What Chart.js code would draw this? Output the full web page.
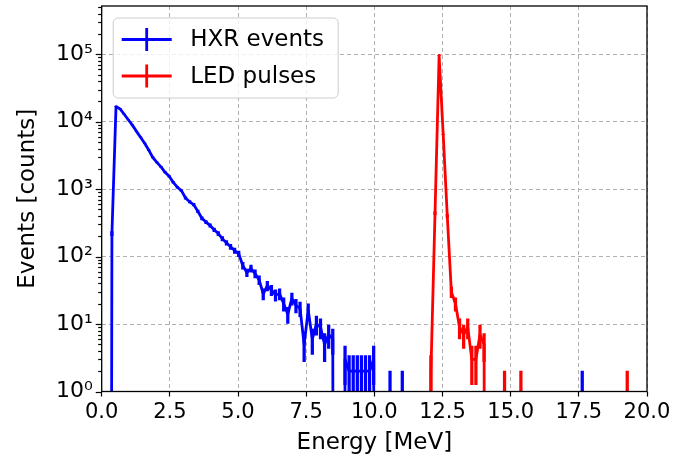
<!DOCTYPE html>
<html>
<head>
<meta charset="utf-8">
<script src="https://cdn.jsdelivr.net/npm/chart.js@4.4.1/dist/chart.umd.min.js"></script>
<style>
  html, body { margin: 0; padding: 0; background: #ffffff; }
  #wrap { width: 689px; height: 463px; }
</style>
</head>
<body>
<div id="wrap"><canvas id="spectrum" width="689" height="463"></canvas></div>
<script>
// Energy spectrum: bin centres [MeV] and counts per bin
const hxrEnergy = [0.225, 0.375, 0.525, 0.675, 0.825, 0.975, 1.125, 1.275, 1.425, 1.575, 1.725, 1.875,
  2.025, 2.175, 2.325, 2.475, 2.625, 2.775, 2.925, 3.075, 3.225, 3.375, 3.525, 3.675, 3.825, 3.975,
  4.125, 4.275, 4.425, 4.575, 4.725, 4.875, 5.025, 5.175, 5.325, 5.475, 5.625, 5.775, 5.925, 6.075,
  6.225, 6.375, 6.525, 6.675, 6.825, 6.975, 7.125, 7.275, 7.425, 7.575, 7.725, 7.875, 8.025, 8.175,
  8.325, 8.475, 8.625, 8.775, 8.925, 9.075, 9.225, 9.375, 9.525, 9.675, 9.825, 9.975, 10.125, 10.425,
  10.575, 10.725, 10.875, 11.025, 11.175, 17.475, 17.625, 17.775];
const hxrCounts = [0, 220, 16800, 15500, 12900, 10700, 8900, 7200, 5900, 4800, 3800, 2950,
  2500, 2140, 1780, 1550, 1260, 1070, 950, 740, 650, 590, 470, 370, 325, 290,
  250, 220, 185, 160, 140, 123, 110, 74, 58, 67, 56, 45, 28, 37,
  32, 27, 28, 20, 14, 24, 19, 17, 5, 16, 6, 10, 9, 5,
  7, 6, 0, 0, 3, 2, 2, 2, 2, 2, 2, 3, 0, 0,
  1, 0, 0, 1, 0, 0, 1, 0];

const ledEnergy = [11.925, 12.075, 12.225, 12.375, 12.525, 12.675, 12.825, 12.975, 13.125, 13.275,
  13.425, 13.575, 13.725, 13.875, 14.025, 14.175, 14.625, 14.775, 14.925, 15.225, 15.375, 15.525,
  19.125, 19.275, 19.425];
const ledCounts = [0, 2, 440, 96000, 6500, 400, 30, 20, 9, 7,
  9, 3, 3, 7, 5, 0, 0, 1, 0, 0, 1, 0,
  0, 1, 0];

const seriesLabels = ['HXR events', 'LED pulses'];
const seriesColors = ['#0000ff', '#ff0000'];

const xTickValues = [0, 2.5, 5, 7.5, 10, 12.5, 15, 17.5, 20];
const yTickExponents = [0, 1, 2, 3, 4, 5];

// Zero-count bins sit far below the log axis so the trace drops straight out of view.
const CLIP_VALUE = 1e-30;
const SUPERSCRIPT = {'0':'⁰','1':'¹','2':'²','3':'³','4':'⁴','5':'⁵','6':'⁶','7':'⁷','8':'⁸','9':'⁹','-':'⁻'};
const FONT = '"DejaVu Sans", "Liberation Sans", sans-serif';

function tracePoints(E, N) {
  return E.map((e, i) => ({ x: e, y: N[i] > 0 ? N[i] : CLIP_VALUE }));
}
// Poisson error bars, sqrt(N)
function errorBars(E, N) {
  const out = [];
  E.forEach((e, i) => {
    if (N[i] > 0) {
      const s = Math.sqrt(N[i]);
      out.push({ x: e, y: [Math.max(N[i] - s, CLIP_VALUE), N[i] + s] });
    }
  });
  return out;
}

function lineSet(label, color, E, N, order) {
  return { type: 'line', label, data: tracePoints(E, N), borderColor: color, backgroundColor: color,
           borderWidth: 2.8, pointRadius: 0, tension: 0, fill: false, order, borderJoinStyle: 'round' };
}
function errSet(color, E, N, order) {
  return { type: 'bar', data: errorBars(E, N), backgroundColor: color, borderWidth: 0,
           barThickness: 2.6, grouped: false, order };
}

// Frame, log-axis tick marks and the legend box
const decorations = {
  id: 'decorations',
  afterDraw(chart) {
    const { ctx, chartArea: a } = chart;
    const y = chart.scales.y;
    ctx.save();
    // y tick marks: long at decades, short between
    ctx.strokeStyle = '#000';
    ctx.lineWidth = 1.2;
    y.ticks.forEach(t => {
      const py = Math.round(y.getPixelForValue(t.value)) + 0.5;
      if (py < a.top - 0.5 || py > a.bottom + 1) return;
      const len = t.major ? 6 : 3.5;
      ctx.beginPath();
      ctx.moveTo(a.left, py);
      ctx.lineTo(a.left - len, py);
      ctx.stroke();
    });
    // axes frame
    ctx.lineWidth = 1.3;
    ctx.strokeStyle = '#000';
    ctx.strokeRect(a.left, a.top, a.right - a.left, a.bottom - a.top);

    // legend
    const bx = a.left + 11.5, by = a.top + 12, bw = 225, bh = 80, r = 5;
    ctx.beginPath();
    ctx.moveTo(bx + r, by);
    ctx.arcTo(bx + bw, by, bx + bw, by + bh, r);
    ctx.arcTo(bx + bw, by + bh, bx, by + bh, r);
    ctx.arcTo(bx, by + bh, bx, by, r);
    ctx.arcTo(bx, by, bx + bw, by, r);
    ctx.closePath();
    ctx.fillStyle = 'rgba(255,255,255,0.8)';
    ctx.fill();
    ctx.strokeStyle = '#cccccc';
    ctx.lineWidth = 1;
    ctx.stroke();

    const rows = chart.data.datasets.filter(d => d.type === 'line');
    rows.forEach((d, i) => {
      const cy = by + 21.5 + i * 36.5;
      const x0 = bx + 8.5, x1 = bx + 58.5, xm = (x0 + x1) / 2;
      ctx.strokeStyle = d.borderColor;
      ctx.lineWidth = 2.8;
      ctx.beginPath();
      ctx.moveTo(x0, cy); ctx.lineTo(x1, cy);
      ctx.moveTo(xm, cy - 11.5); ctx.lineTo(xm, cy + 11.5);
      ctx.stroke();
      ctx.fillStyle = '#000';
      ctx.font = '23px ' + FONT;
      ctx.textBaseline = 'middle';
      ctx.textAlign = 'left';
      ctx.fillText(d.label, bx + 77, cy + 1);
    });
    ctx.restore();
  }
};

new Chart(document.getElementById('spectrum'), {
  type: 'line',
  data: {
    datasets: [
      lineSet(seriesLabels[0], seriesColors[0], hxrEnergy, hxrCounts, 4),
      errSet(seriesColors[0], hxrEnergy, hxrCounts, 3),
      lineSet(seriesLabels[1], seriesColors[1], ledEnergy, ledCounts, 2),
      errSet(seriesColors[1], ledEnergy, ledCounts, 1)
    ]
  },
  options: {
    responsive: false,
    animation: false,
    devicePixelRatio: 1,
    layout: { padding: { left: 0, right: 42, top: 6, bottom: 0 } },
    plugins: { legend: { display: false }, tooltip: { enabled: false } },
    scales: {
      x: {
        type: 'linear', min: 0, max: 20, offset: false,
        afterBuildTicks: s => { s.ticks = xTickValues.map(v => ({ value: v })); },
        afterFit: s => { s.height = 71.5; s.paddingLeft = 0; s.paddingRight = 0; },
        grid: { offset: false, color: '#b0b0b0', lineWidth: 1, drawTicks: true, tickLength: 5,
                tickColor: '#000', tickWidth: 1.2 },
        border: { display: false, dash: [4, 3] },
        ticks: { autoSkip: false, maxRotation: 0, padding: 3, color: '#000',
                 font: { family: FONT, size: 21 }, callback: v => Number(v).toFixed(1) },
        title: { display: true, text: 'Energy [MeV]', color: '#000',
                 font: { family: FONT, size: 23 }, padding: { top: 0, bottom: 6 } }
      },
      y: {
        type: 'logarithmic', min: 1, max: 5.2e5,
        afterBuildTicks: s => {
          const t = [];
          yTickExponents.forEach(k => {
            for (let m = 1; m <= 9; m++) {
              const v = m * Math.pow(10, k);
              if (v <= s.max) t.push({ value: v, major: m === 1 });
            }
          });
          s.ticks = t;
        },
        afterFit: s => { s.width = 101.7; s.paddingTop = 0; s.paddingBottom = 0; },
        grid: { drawTicks: false, lineWidth: 1,
                color: c => (c.tick && c.tick.major) ? '#b0b0b0' : 'rgba(0,0,0,0)' },
        border: { display: false, dash: [4, 3] },
        ticks: { autoSkip: false, padding: 9, color: '#000', font: { family: FONT, size: 22 },
                 callback: v => {
                   const e = Math.log10(v);
                   if (Math.abs(e - Math.round(e)) > 1e-9) return '';
                   return '10' + String(Math.round(e)).split('').map(c => SUPERSCRIPT[c]).join('');
                 } },
        title: { display: true, text: 'Events [counts]', color: '#000',
                 font: { family: FONT, size: 23 }, padding: { top: 14, bottom: 0 } }
      }
    }
  },
  plugins: [decorations]
});
</script>
</body>
</html>
